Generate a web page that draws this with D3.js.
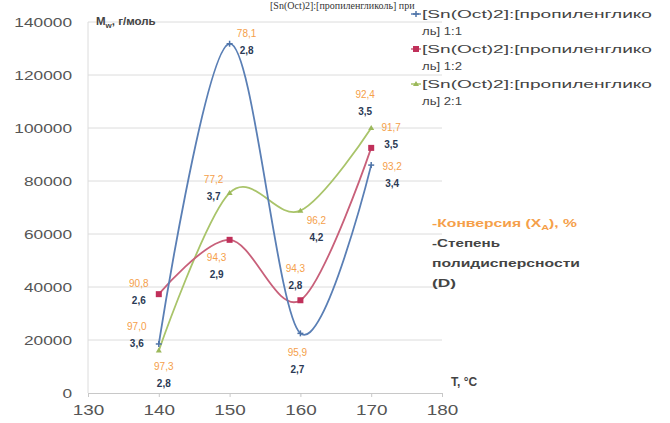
<!DOCTYPE html>
<html><head><meta charset="utf-8">
<script src="https://cdn.jsdelivr.net/npm/d3@7"></script>
<style>
body{margin:0;background:#fff;}
svg{display:block;font-family:"Liberation Sans",Arial,sans-serif;}
</style></head>
<body><svg id="c" width="670" height="423"></svg>
<script>
const temps = [140, 150, 160, 170];
const seriesNames = ["[Sn(Oct)2]:[пропиленгликоль] 1:1", "[Sn(Oct)2]:[пропиленгликоль] 1:2", "[Sn(Oct)2]:[пропиленгликоль] 2:1"];
const mw11 = [18500, 131800, 22500, 86000];
const mw12 = [37300, 57800, 35000, 92500];
const mw21 = [16000, 75500, 68800, 100000];
const conv11 = ["97,0", "78,1", "95,9", "93,2"];
const conv12 = ["90,8", "94,3", "94,3", "91,7"];
const conv21 = ["97,3", "77,2", "96,2", "92,4"];
const disp11 = ["3,6", "2,8", "2,7", "3,4"];
const disp12 = ["2,6", "2,9", "2,8", "3,5"];
const disp21 = ["2,8", "3,7", "4,2", "3,5"];
const yTicks = [0, 20000, 40000, 60000, 80000, 100000, 120000, 140000];
const xTicks = [130, 140, 150, 160, 170, 180];

// label offsets (layout only): [dx, dy] of conversion label relative to point
const off11 = [[-22, -14], [17, -7], [-3, 23], [21, 5]];
const off12 = [[-20, -7], [-13, 21], [-5, -28], [20, -17]];
const off21 = [[5, 19], [-16, -10], [16, 13], [-6, -30]];

const colors = ["#5a7fb5", "#c8607a", "#a9c46a"];
const markerCol = ["#4f74a8", "#c0305a", "#9bb85a"];
const orange = "#f5a04a";
const dark = "#2b3a55";

const svg = d3.select("#c");
const x = d3.scaleLinear().domain([130, 180]).range([88, 442]);
const y = d3.scaleLinear().domain([0, 140000]).range([393, 22]);

// heading remnant at top
svg.append("text").attr("x", 270).attr("y", 9).attr("font-family", "Liberation Serif, Times New Roman, serif")
  .attr("font-size", 10).attr("fill", "#333").text("[Sn(Oct)2]:[пропиленгликоль] при");

// gridlines
svg.append("g").selectAll("line").data(yTicks.filter(d => d > 0)).join("line")
  .attr("x1", 88).attr("x2", 442).attr("y1", d => y(d)).attr("y2", d => y(d))
  .attr("stroke", "#dcdcdc").attr("stroke-width", 1);
svg.append("line").attr("x1", 88).attr("x2", 88).attr("y1", 22).attr("y2", 393).attr("stroke", "#dcdcdc");

// y axis labels (wide look)
const yAxis = d3.axisLeft(y).tickValues(yTicks).tickSize(0).tickPadding(0).tickFormat(d => d);
const gy = svg.append("g").attr("transform", "translate(72,0)").call(yAxis);
gy.select(".domain").remove();
gy.selectAll("text").attr("font-size", 13).attr("fill", "#555")
  .attr("transform", "scale(1.33,1)").attr("x", 0);

// x axis
const xAxis = d3.axisBottom(x).tickValues(xTicks).tickSize(4).tickPadding(0).tickFormat(d => d);
const gx = svg.append("g").attr("transform", "translate(0,393)").call(xAxis);
gx.select(".domain").attr("stroke", "#c8c8c8");
gx.selectAll(".tick line").attr("stroke", "#c8c8c8");
gx.selectAll("text").attr("font-size", 14).attr("fill", "#555").attr("dy", null).attr("y", 0)
  .attr("transform", "translate(0,22) scale(1.35,1)");

// axis titles
const yt = svg.append("text").attr("x", 96).attr("y", 25).attr("font-size", 11.5).attr("font-weight", "bold").attr("fill", "#444");
yt.append("tspan").text("M");
yt.append("tspan").attr("font-size", 8).attr("dy", 3).text("w");
yt.append("tspan").attr("dy", -3).text(", г/моль");
svg.append("text").attr("x", 451).attr("y", 386).attr("font-size", 12).attr("font-weight", "bold").attr("fill", "#444").text("T, °C");

const line = d3.line().x((d, i) => x(temps[i])).y(d => y(d)).curve(d3.curveCatmullRom.alpha(0));
const allMw = [mw11, mw12, mw21];
const allConv = [conv11, conv12, conv21];
const allDisp = [disp11, disp12, disp21];
const allOff = [off11, off12, off21];

[2, 1, 0].forEach(s => {
  svg.append("path").attr("d", line(allMw[s])).attr("fill", "none").attr("stroke", colors[s]).attr("stroke-width", 1.8);
});

function marker(g, s, cx, cy) {
  if (s === 0) {
    g.append("line").attr("x1", cx - 3).attr("x2", cx + 3).attr("y1", cy).attr("y2", cy).attr("stroke", markerCol[0]).attr("stroke-width", 1.5);
    g.append("line").attr("x1", cx).attr("x2", cx).attr("y1", cy - 3).attr("y2", cy + 3).attr("stroke", markerCol[0]).attr("stroke-width", 1.5);
  } else if (s === 1) {
    g.append("rect").attr("x", cx - 3).attr("y", cy - 3).attr("width", 6).attr("height", 6).attr("fill", markerCol[1]);
  } else {
    g.append("path").attr("d", `M${cx - 3},${cy + 2}L${cx},${cy - 3}L${cx + 3},${cy + 2}Z`).attr("fill", markerCol[2]);
  }
}

const mg = svg.append("g");
[0, 1, 2].forEach(s => {
  allMw[s].forEach((v, i) => marker(mg, s, x(temps[i]), y(v)));
});

// data labels
const lg = svg.append("g").attr("font-size", 10).attr("text-anchor", "middle").attr("font-weight", "bold");
[0, 1, 2].forEach(s => {
  allMw[s].forEach((v, i) => {
    const px = x(temps[i]) + allOff[s][i][0], py = y(v) + allOff[s][i][1];
    lg.append("text").attr("x", px).attr("y", py).attr("fill", orange).attr("font-weight", "normal").text(allConv[s][i]);
    lg.append("text").attr("x", px).attr("y", py + 17).attr("fill", dark).text(allDisp[s][i]);
  });
});

// legend
const leg = svg.append("g").attr("font-size", 10.5).attr("fill", "#444");
seriesNames.forEach((n, s) => {
  const ly = 18 + s * 35;
  leg.append("line").attr("x1", 411).attr("x2", 421).attr("y1", ly - 4).attr("y2", ly - 4).attr("stroke", colors[s]).attr("stroke-width", 1.5);
  marker(leg, s, 416, ly - 4);
  const cut = n.indexOf("ль]");
  leg.append("text").attr("x", 422).attr("y", ly).attr("textLength", 230).attr("lengthAdjust", "spacingAndGlyphs").text(n.slice(0, cut));
  leg.append("text").attr("x", 422).attr("y", ly + 17).attr("textLength", 40).attr("lengthAdjust", "spacingAndGlyphs").text(n.slice(cut));
});

// note
const note = svg.append("g").attr("font-size", 11.5).attr("font-weight", "bold");
const t1 = note.append("text").attr("x", 432).attr("y", 227).attr("fill", orange).attr("textLength", 145).attr("lengthAdjust", "spacingAndGlyphs");
t1.append("tspan").text("-Конверсия (X");
t1.append("tspan").attr("font-size", 8).attr("dy", 3).text("A");
t1.append("tspan").attr("dy", -3).text("), %");
const noteLines = ["-Степень", "полидисперсности", "(D)"];
const noteLens = [68, 148, 24];
noteLines.forEach((t, i) => {
  note.append("text").attr("x", 432).attr("y", 247 + i * 20).attr("fill", "#444")
    .attr("textLength", noteLens[i]).attr("lengthAdjust", "spacingAndGlyphs").text(t);
});
</script></body></html>
